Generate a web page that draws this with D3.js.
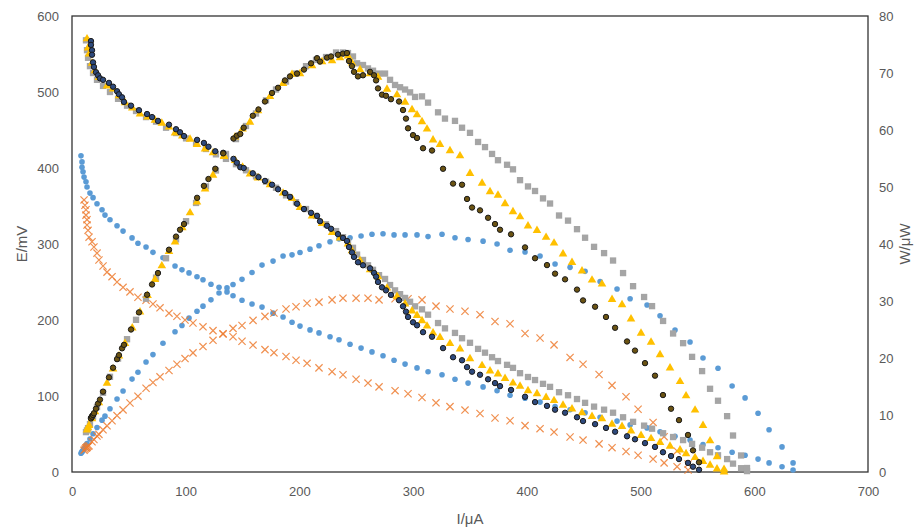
<!DOCTYPE html>
<html><head><meta charset="utf-8">
<script src="https://cdn.jsdelivr.net/npm/d3@7"></script>
<style>body{margin:0;background:#fff} svg{display:block}</style>
</head><body><svg id="c" width="917" height="529"></svg>
<script>
const xTicks=[0,100,200,300,400,500,600,700];
const eTicks=[0,100,200,300,400,500,600];
const wTicks=[0,10,20,30,40,50,60,70,80];

// Series 1 (blue circles)
const iBlue=[7.9,8.8,8.8,9.7,10.6,12.3,13.2,15.8,18.5,22.0,26.4,29.0,33.4,39.6,44.9,52.8,58.0,65.1,71.2,80.0,90.6,96.7,102.9,109.9,115.2,122.2,129.3,136.3,141.6,149.5,158.3,167.1,176.8,185.6,193.5,200.5,209.3,217.2,226.9,234.8,244.5,254.2,263.8,273.5,283.2,292.9,303.4,313.1,325.4,336.8,348.3,361.5,373.8,385.2,398.4,411.6,424.8,438.0,451.2,464.4,479.3,490.8,505.7,517.1,530.3,543.5,554.9,568.1,580.5,591.9,603.3,613.0,624.4,634.1];
const eBlue=[416,408,401,395,388,382,375,367,361,353,345,338,332,324,317,308,301,296,289,282,271,266,262,257,253,247,243,237,232,226,221,217,209,204,197,192,187,183,178,174,168,163,158,153,147,142,137,132,128,122,117,112,107,101,97,92,86,82,78,72,67,62,58,53,47,42,36,32,26,22,17,12,7,2.6];
const wBlue=[3.3,3.6,3.5,3.8,4.1,4.7,5.0,5.8,6.7,7.8,9.1,9.8,11.1,12.8,14.2,16.3,17.5,19.3,20.6,22.6,24.6,25.7,27.0,28.2,29.1,30.2,31.4,32.3,32.9,33.8,35.0,36.3,37.0,37.9,38.1,38.5,39.1,39.7,40.4,40.9,41.1,41.4,41.7,41.8,41.6,41.6,41.6,41.3,41.7,41.1,40.8,40.5,40.0,38.9,38.6,37.9,36.5,35.9,35.2,33.4,32.1,30.4,29.3,27.4,24.9,22.8,20.0,18.2,15.1,13.0,10.3,7.4,4.4,1.6];

// Series 2 (orange crosses)
const iOrange=[10.6,11.4,12.3,12.3,13.2,13.2,14.1,15.0,17.6,19.3,22.0,23.7,27.3,30.8,35.2,39.6,44.9,51.0,58.0,65.1,71.2,77.4,85.3,92.3,99.4,106.4,115.2,124.0,132.8,141.6,149.5,159.2,169.7,177.6,188.2,197.0,206.7,217.2,228.7,238.3,249.8,260.3,270.0,284.1,295.5,307.8,320.1,332.4,345.6,358.8,372.0,385.2,398.4,411.6,423.9,438.0,449.4,463.5,474.9,487.2,497.8,511.0,520.7,532.1,541.8];
const eOrange=[358,351,345,338,332,325,318,309,303,296,288,279,271,263,257,250,243,237,230,226,221,216,209,205,200,196,191,186,182,178,172,167,161,157,152,147,143,137,132,128,122,117,112,107,103,98,91,86,81.5,77,71,67.5,61,57,52.5,46,42,37,32,27,22,17,12,7,2.6];
const wOrange=[3.8,4.0,4.2,4.2,4.4,4.3,4.5,4.6,5.3,5.7,6.3,6.6,7.4,8.1,9.0,9.9,10.9,12.1,13.3,14.7,15.7,16.7,17.8,18.9,19.9,20.9,22.0,23.1,24.2,25.2,25.7,26.6,27.3,27.9,28.6,29.0,29.6,29.8,30.2,30.5,30.5,30.5,30.2,30.4,30.4,30.2,29.1,28.6,28.2,27.6,26.4,26.0,24.3,23.5,22.3,20.1,18.9,17.1,15.2,13.2,11.0,8.7,6.2,3.7,1.4];

// Series 3 (gray squares)
const iGray=[12.3,13.2,14.1,15.8,18.5,22.0,27.3,33.4,40.5,48.4,56.3,65.1,73.9,82.7,91.5,100.3,109.1,117.8,126.6,135.4,144.2,153.0,161.8,170.6,179.4,188.2,197.0,205.8,214.6,223.4,232.2,238.3,242.7,247.1,250.7,255.9,260.3,264.7,270.0,275.3,279.7,284.1,288.5,292.9,297.3,301.7,307.8,313.1,321.9,328.0,336.8,343.0,350.0,357.1,363.2,369.4,374.6,382.6,387.8,394.0,401.0,407.2,414.2,420.4,428.3,436.2,444.1,451.2,459.1,467.9,475.8,484.6,493.4,503.1,510.1,519.8,528.6,537.4,545.3,554.1,561.1,568.1,576.1,581.3,588.4,593.6];
const eGray=[568,555,545,534,525,516,508,500,491,482,475,467,461,453,446,439,433,425,418,412,405,397,389,382,374,364,355,346,337,326,317,309,303,295,286,279,272,266,259,254,246,239,234,229,224,218,214,207,196,189,183,176,170,162,157,151,146,141,137,130,125,121,116,112,105,101,96,91,86,82,78,72,66,61,57,51,46,42,37,32,26,22,17,11,5,1.2];
const wGray=[7.0,7.3,7.7,8.4,9.7,11.4,13.9,16.7,19.9,23.3,26.7,30.4,34.1,37.5,40.8,44.0,47.2,50.1,52.9,55.8,58.4,60.7,62.9,65.2,67.1,68.5,69.9,71.2,72.3,72.8,73.6,73.6,73.5,72.9,71.7,71.4,70.8,70.4,69.9,69.9,68.8,67.9,67.5,67.1,66.6,65.8,65.9,64.8,63.1,62.0,61.6,60.4,59.5,57.9,57.0,55.8,54.7,53.9,53.1,51.2,50.1,49.3,48.0,47.1,45.0,44.1,42.6,41.1,39.5,38.4,37.1,34.9,32.6,30.7,29.1,26.5,24.3,22.6,20.2,17.7,14.6,12.5,9.8,6.4,2.9,0.7];

// Series 4 (yellow triangles)
const iYellow=[13.2,14.1,15.0,17.6,20.2,23.7,30.8,36.1,41.3,46.6,53.0,59.8,66.5,73.0,79.0,85.3,90.6,97.0,103.8,109.9,117.0,124.0,133.7,143.4,150.0,156.5,163.6,174.1,185.6,193.5,200.5,211.1,219.9,228.7,235.7,242.7,246.2,253.3,262.1,269.1,277.0,285.8,292.9,299.0,303.4,307.8,312.2,317.5,323.6,332.4,341.2,350.0,360.6,367.6,374.6,380.8,387.8,394.0,401.0,408.9,416.9,423.9,431.8,439.7,448.5,457.3,466.1,474.9,483.7,491.6,500.4,509.2,517.1,525.9,534.7,540.0,547.9,554.9,561.1,567.2,573.4];
const eYellow=[571,559,551,539,529,520,509,505,496,487,480,472,468,464,460,455,447,443,439,432,426,421,416,411,402,393,388,379,368,361,349,338,328,316,309,301,292,279,267,258,243,232,222,213,207,200,193,184,178,170,163,150,141,134,130,124,118,114,108,104,99,95,89,84,79,74,71,64,61,55,49,45,40,35,30,25,20,15,10,5,1];
const wYellow=[7.5,7.9,8.3,9.5,10.7,12.3,15.7,18.2,20.5,22.7,25.4,28.2,31.1,33.9,36.3,38.8,40.5,43.0,45.6,47.5,49.8,52.2,55.6,58.9,60.3,61.5,63.5,66.0,68.3,69.9,70.0,71.4,72.1,72.3,72.8,73.1,71.9,70.7,70.0,69.4,67.3,66.3,65.0,63.7,62.8,61.6,60.3,58.4,57.6,56.5,55.6,52.5,50.8,49.3,48.7,47.2,45.8,44.9,43.3,42.5,41.3,40.3,38.4,36.9,35.4,33.8,33.1,30.4,29.5,27.0,24.5,22.9,20.7,18.4,16.0,13.5,11.0,8.3,5.6,2.8,0.6];

// Series 5 (dark circles)
const iDark=[16.7,16.7,17.6,17.6,18.5,19.3,21.1,22.9,24.6,27.3,32.5,36.1,39.6,41.3,44.0,45.7,51.9,58.9,66.0,70.4,75.6,85.3,91.5,95.0,98.5,110,116,120,126,133,142,145,148,151,159,164,169.7,175.9,181.2,187.3,191.7,197.9,204.0,210.2,215.5,218.1,224.3,227.8,233.9,238.3,241.8,243.6,246.2,248.0,251.5,255.9,262.1,265.6,267.4,269.1,272.6,276.1,280.5,287.6,291.1,293.7,295.5,299.9,303.4,308.7,316.6,326.3,335.1,343.0,347.4,351.8,358.8,365.9,372.0,376.4,386.1,398.4,407.2,417.7,424.8,433.6,444.1,449.4,460.0,469.6,477.6,488.1,495.1,503.9,512.7,519.7,526.8,533.8,541.7,546.1,551.4];
const eDark=[567,562,555,549,539,533,526,522,518,516,512,507,501,497,493,487,482,476,471,467,462,457,451,447,442,437,433,428,422,420,412,407,401,400,393,388,383,378,372,367,362,353,346,341,337,330,324,320,313,308,304,296,289,283,276,272,268,262,257,250,243,239,233,226,218,211,204,197,193,184,178,163,151,147,138,132,128,122,117,113,108,99,92,87,82,78,72,67,63,58,53,47,43,38,33,26,21,17,12,7,3];
const wDark=[9.5,9.4,9.8,9.7,10.0,10.3,11.1,12.0,12.7,14.1,16.6,18.3,19.8,20.5,21.7,22.3,25.0,28.0,31.1,32.9,34.9,39.0,41.3,42.5,43.5,48.1,50.2,51.4,53.2,55.9,58.5,59.0,59.3,60.4,62.5,63.6,65.0,66.5,67.4,68.7,69.4,69.9,70.6,71.7,72.6,72.0,72.7,72.9,73.2,73.4,73.5,72.1,71.2,70.2,69.4,69.6,70.2,69.6,68.7,67.3,66.2,66.0,65.4,65.0,63.5,62.0,60.3,59.1,58.6,56.8,56.4,53.2,50.6,50.4,47.9,46.4,45.9,44.6,43.5,42.5,41.7,39.4,37.5,36.3,34.8,33.8,32.0,30.1,29.0,27.2,25.3,22.9,21.3,19.1,16.9,13.5,11.1,9.1,6.5,3.8,1.7];

const svg=d3.select('#c');
const L=72,R=868,T=16,B=472;
const x=d3.scaleLinear().domain([0,700]).range([L,R]);
const yE=d3.scaleLinear().domain([0,600]).range([B,T]);
const yW=d3.scaleLinear().domain([0,80]).range([B,T]);
const font='"Liberation Sans", Arial, sans-serif';
const tc='#595959';

function styleAxis(g){
  g.select('.domain').remove();
  g.selectAll('line').remove();
  g.selectAll('text').attr('fill',tc).style('font-family',font).style('font-size','13px');
}
svg.append('g').attr('transform',`translate(${L},0)`).call(d3.axisLeft(yE).tickValues(eTicks).tickSize(0).tickPadding(13)).call(styleAxis);
svg.append('g').attr('transform',`translate(${R},0)`).call(d3.axisRight(yW).tickValues(wTicks).tickSize(0).tickPadding(11)).call(styleAxis);
svg.append('g').attr('transform',`translate(0,${B})`).call(d3.axisBottom(x).tickValues(xTicks).tickSize(0).tickPadding(15)).call(styleAxis);

// frame
svg.append('rect').attr('x',L).attr('y',T).attr('width',R-L).attr('height',B-T)
  .attr('fill','none').attr('stroke','#333').attr('stroke-width',1.3);

// titles
svg.append('text').attr('transform',`translate(27,${(T+B)/2}) rotate(-90)`).attr('text-anchor','middle')
  .attr('fill',tc).style('font-family',font).style('font-size','15px').text('E/mV');
svg.append('text').attr('transform',`translate(910,${(T+B)/2}) rotate(-90)`).attr('text-anchor','middle')
  .attr('fill',tc).style('font-family',font).style('font-size','15px').text('W/μW');
svg.append('text').attr('x',(L+R)/2).attr('y',524).attr('text-anchor','middle')
  .attr('fill',tc).style('font-family',font).style('font-size','15px').text('I/μA');

const plot=svg.append('g');
function draw(I,V,ys,st){
  const data=I.map((v,i)=>[v,V[i]]);
  const g=plot.append('g');
  if(st.type==='circle'){
    g.selectAll('circle').data(data).join('circle')
      .attr('cx',d=>x(d[0])).attr('cy',d=>ys(d[1])).attr('r',st.r)
      .attr('fill',st.fill).attr('stroke',st.stroke||'none').attr('stroke-width',st.sw||0);
  } else if(st.type==='square'){
    const s=d3.symbol(d3.symbolSquare,st.size)();
    g.selectAll('path').data(data).join('path').attr('d',s)
      .attr('transform',d=>`translate(${x(d[0])},${ys(d[1])})`).attr('fill',st.fill);
  } else if(st.type==='triangle'){
    const s=d3.symbol(d3.symbolTriangle,st.size)();
    g.selectAll('path').data(data).join('path').attr('d',s)
      .attr('transform',d=>`translate(${x(d[0])},${ys(d[1])+0.8})`).attr('fill',st.fill);
  } else {
    const h=st.h;
    g.selectAll('path').data(data).join('path')
      .attr('d',`M${-h},${-h}L${h},${h}M${-h},${h}L${h},${-h}`)
      .attr('transform',d=>`translate(${x(d[0])},${ys(d[1])})`)
      .attr('fill','none').attr('stroke',st.stroke).attr('stroke-width',1.2).attr('opacity',0.85);
  }
}
const sBlue={type:'circle',r:2.8,fill:'#5B9BD5'};
const sOrange={type:'x',h:3.6,stroke:'#ED7D31'};
const sGray={type:'square',size:40,fill:'#A5A5A5'};
const sYellow={type:'triangle',size:32,fill:'#FFC000'};
const sDarkE={type:'circle',r:2.7,fill:'#2E4A7D',stroke:'#1a1a1a',sw:1};
const sDarkW={type:'circle',r:2.7,fill:'#6B5312',stroke:'#1a1a1a',sw:1};

draw(iBlue,eBlue,yE,sBlue); draw(iBlue,wBlue,yW,sBlue);
draw(iOrange,eOrange,yE,sOrange); draw(iOrange,wOrange,yW,sOrange);
draw(iGray,eGray,yE,sGray); draw(iGray,wGray,yW,sGray);
draw(iYellow,eYellow,yE,sYellow); draw(iYellow,wYellow,yW,sYellow);
draw(iDark,eDark,yE,sDarkE); draw(iDark,wDark,yW,sDarkW);
</script></body></html>
